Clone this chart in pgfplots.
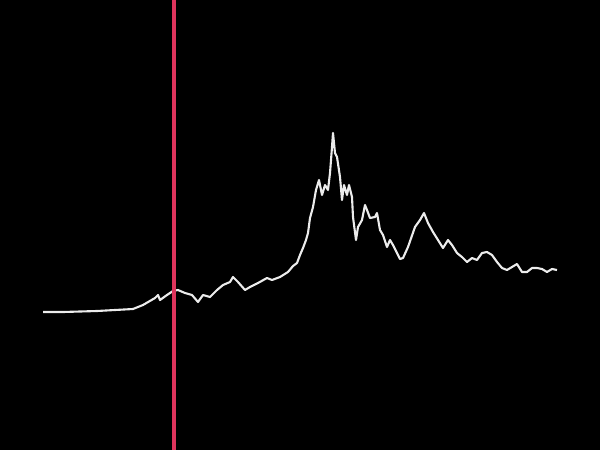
\documentclass[border=0pt]{standalone}
\usepackage{pgfplots}
\pgfplotsset{compat=1.18}
\definecolor{vred}{RGB}{222,52,92}
\begin{document}
\begin{tikzpicture}
\begin{axis}[
  width=15cm, height=11.25cm, scale only axis,
  xmin=0, xmax=600, ymin=0, ymax=450, y dir=reverse,
  axis lines=none, ticks=none,
  axis background/.style={fill=black},
  clip=true,
]
\addplot[white!85!gray, line width=1.5pt, line join=round] coordinates {
(43,312)(63,312)(97,311)(133,309)(143,305)(155,298)(158,295)(160,300)(167,295)
(173,291)(178,290)(185,293)(192,295)(198,302)(203,295)(210,297)(217,290)(223,285)
(230,282)(233,277)(238,282)(245,290)(250,287)(258,283)(267,278)(272,280)(280,277)
(288,272)(293,266)(297,263)(300,255)(303,248)(306,240)(308,233)(310,218)(313,207)
(316,190)(319,180)(322,195)(325,185)(328,190)(330,173)(332,147)(333,133)(335,153)
(337,157)(340,177)(342,200)(344,185)(347,195)(349,185)(352,197)(353,217)(356,240)
(358,227)(362,220)(365,205)(367,210)(370,218)(375,217)(377,213)(380,230)(383,235)
(387,247)(390,240)(393,245)(397,253)(400,259)(403,258)(408,247)(415,227)(420,220)
(424,213)(428,223)(433,232)(438,240)(443,248)(448,240)(452,245)(457,253)(462,257)
(467,262)(472,258)(477,260)(482,253)(487,252)(492,255)(497,262)(502,268)(507,270)
(512,267)(517,264)(522,272)(527,272)(532,268)(537,268)(542,269)(547,272)(552,269)(557,270)
};
\addplot[vred, line width=2.2pt] coordinates {(174,-5)(174,455)};
\end{axis}
\end{tikzpicture}
\end{document}
